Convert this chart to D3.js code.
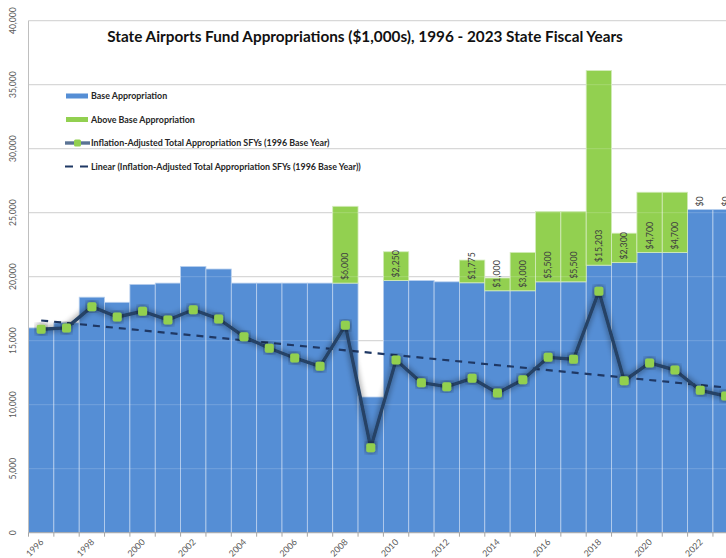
<!DOCTYPE html>
<html>
<head>
<meta charset="utf-8">
<script src="https://cdn.jsdelivr.net/npm/d3@7"></script>
<style>
  body { margin: 0; background: #fff; }
  svg { display: block; font-family: Lato, "Open Sans", sans-serif; }
</style>
</head>
<body>
<div id="chart"></div>
<script>
const width = 726;
const height = 558;

const years = d3.range(1996, 2024);
// base appropriation ($1,000s)
const baseValues = [16000, 16400, 18400, 18000, 19400, 19500, 20800, 20600, 19500, 19500,
    19500, 19500, 19500, 10600, 19700, 19700, 19600, 19525, 18900, 18900,
    19600, 19600, 20900, 21100, 21900, 21900, 25250, 25250];
// above base appropriation (null = none)
const aboveValues = [null, null, null, null, null, null, null, null, null, null,
    null, null, 6000, null, 2250, null, null, 1775, 1000, 3000,
    5500, 5500, 15203, 2300, 4700, 4700, 0, 0];
// inflation-adjusted total appropriation (1996 base year)
const adjustedValues = [15900, 16000, 17660, 16850, 17300, 16620, 17420, 16700, 15310, 14410,
    13650, 13000, 16200, 6640, 13490, 11720, 11410, 12060, 10910, 11950,
    13700, 13550, 18860, 11870, 13260, 12710, 11120, 10680];
const yTicks = d3.range(0, 40001, 5000);
const xLabelYears = years.filter(y => (y - 1996) % 2 === 0);

const legendItems = [
    {type: "bar", color: "#558ED5", label: "Base Appropriation"},
    {type: "bar", color: "#92D050", label: "Above Base Appropriation"},
    {type: "line", label: "Inflation-Adjusted Total Appropriation SFYs (1996 Base Year)"},
    {type: "dash", label: "Linear (Inflation-Adjusted Total Appropriation SFYs (1996 Base Year))"}
];

const left = 28.5;
const band = 25.35;

const x = d3.scaleBand()
    .domain(years)
    .range([left, left + band * years.length])
    .padding(0);

const y = d3.scaleLinear()
    .domain([0, 40000])
    .range([532.7, 20.7]);

const svg = d3.create("svg")
    .attr("width", width)
    .attr("height", height);

const defs = svg.append("defs");
const glow = defs.append("filter")
    .attr("id", "glow")
    .attr("x", "-20%").attr("y", "-20%")
    .attr("width", "140%").attr("height", "140%");
glow.append("feGaussianBlur")
    .attr("in", "SourceAlpha")
    .attr("stdDeviation", 3)
    .attr("result", "blur");
glow.append("feComponentTransfer")
    .attr("in", "blur")
    .attr("result", "soft")
    .append("feFuncA").attr("type", "linear").attr("slope", 0.6);
const merge = glow.append("feMerge");
merge.append("feMergeNode").attr("in", "soft");
merge.append("feMergeNode").attr("in", "SourceGraphic");

// gridlines
svg.append("g")
    .selectAll("line")
    .data(yTicks.filter(d => d > 0))
    .join("line")
    .attr("x1", left)
    .attr("x2", width)
    .attr("y1", d => y(d))
    .attr("y2", d => y(d))
    .attr("stroke", "#c8c8c8")
    .attr("stroke-width", 1);

// bars
const cx = d => x(d) + x.bandwidth() / 2;
const barData = years.map((yr, i) => ({year: yr, base: baseValues[i], above: aboveValues[i]}));

svg.append("g")
    .selectAll("rect")
    .data(barData)
    .join("rect")
    .attr("x", d => x(d.year))
    .attr("width", x.bandwidth())
    .attr("y", d => y(d.base))
    .attr("height", d => y(0) - y(d.base))
    .attr("fill", "#558ED5")
    .attr("stroke", "#b9d0ee")
    .attr("stroke-width", 0.8);

svg.append("g")
    .selectAll("rect")
    .data(barData.filter(d => d.above))
    .join("rect")
    .attr("x", d => x(d.year))
    .attr("width", x.bandwidth())
    .attr("y", d => y(d.base + d.above))
    .attr("height", d => y(d.base) - y(d.base + d.above))
    .attr("fill", "#92D050")
    .attr("stroke", "#d4ecbc")
    .attr("stroke-width", 0.8);

// faint gridlines over the bars
svg.append("g")
    .selectAll("line")
    .data(yTicks.filter(d => d > 0))
    .join("line")
    .attr("x1", left)
    .attr("x2", width)
    .attr("y1", d => y(d))
    .attr("y2", d => y(d))
    .attr("stroke", "#ffffff")
    .attr("stroke-opacity", 0.18);

// data labels on above-base segments
svg.append("g")
    .selectAll("text")
    .data(barData.filter(d => d.above !== null))
    .join("text")
    .attr("transform", d => `translate(${cx(d.year) + 3},${y(d.base) - 3}) rotate(-90)`)
    .attr("font-size", "8.8px")
    .attr("fill", "#404040")
    .text(d => "$" + d3.format(",")(d.above));

// axes
svg.append("line")
    .attr("x1", left).attr("x2", left)
    .attr("y1", y(40000)).attr("y2", y(0))
    .attr("stroke", "#bfbfbf");
svg.append("line")
    .attr("x1", left).attr("x2", width)
    .attr("y1", y(0)).attr("y2", y(0))
    .attr("stroke", "#a6a6a6");

svg.append("g")
    .selectAll("line")
    .data(years.concat([2024]))
    .join("line")
    .attr("x1", d => d === 2024 ? left + band * years.length : x(d))
    .attr("x2", d => d === 2024 ? left + band * years.length : x(d))
    .attr("y1", y(0))
    .attr("y2", y(0) + 4)
    .attr("stroke", "#a6a6a6");

svg.append("g")
    .selectAll("text")
    .data(yTicks)
    .join("text")
    .attr("transform", d => `translate(16,${y(d)}) rotate(-90)`)
    .attr("text-anchor", "middle")
    .attr("font-size", "8.5px")
    .attr("fill", "#595959")
    .text(d => d3.format(",")(d));

svg.append("g")
    .selectAll("text")
    .data(xLabelYears)
    .join("text")
    .attr("transform", d => `translate(${cx(d) + 3},${y(0) + 10}) rotate(-45)`)
    .attr("text-anchor", "end")
    .attr("font-size", "8.8px")
    .attr("fill", "#595959")
    .text(d => d);

// linear trend (least squares on the adjusted series)
const n = years.length;
const mx = d3.mean(years);
const my = d3.mean(adjustedValues);
const slope = d3.sum(years, (yr, i) => (yr - mx) * (adjustedValues[i] - my)) /
    d3.sum(years, yr => (yr - mx) * (yr - mx));
const trend = [years[0], years[n - 1]].map(yr => ({year: yr, v: my + slope * (yr - mx)}));

svg.append("path")
    .datum(trend)
    .attr("fill", "none")
    .attr("stroke", "#1F3864")
    .attr("stroke-width", 2.2)
    .attr("stroke-dasharray", "7,6")
    .attr("d", d3.line().x(d => cx(d.year)).y(d => y(d.v)));

// adjusted line
const lineData = years.map((yr, i) => ({year: yr, v: adjustedValues[i]}));
svg.append("path")
    .datum(lineData)
    .attr("fill", "none")
    .attr("stroke", "#254366")
    .attr("stroke-width", 3.4)
    .attr("stroke-linejoin", "round")
    .attr("filter", "url(#glow)")
    .attr("d", d3.line().x(d => cx(d.year)).y(d => y(d.v)));

svg.append("g")
    .selectAll("rect")
    .data(lineData)
    .join("rect")
    .attr("x", d => cx(d.year) - 4.5)
    .attr("y", d => y(d.v) - 4.5)
    .attr("width", 9)
    .attr("height", 9)
    .attr("rx", 2)
    .attr("fill", "#92D050")
    .attr("filter", "url(#glow)");

// title
svg.append("text")
    .attr("x", 365)
    .attr("y", 42)
    .attr("text-anchor", "middle")
    .attr("font-size", "15.3px")
    .attr("font-weight", "bold")
    .attr("fill", "#111")
    .text("State Airports Fund Appropriations ($1,000s), 1996 - 2023 State Fiscal Years");

// legend
const legend = svg.append("g");
const legendY = [96, 119.5, 143, 166.5];
legendItems.forEach((item, i) => {
    const g = legend.append("g").attr("transform", `translate(65,${legendY[i]})`);
    if (item.type === "bar") {
        g.append("rect").attr("x", 1).attr("y", -2.5).attr("width", 22).attr("height", 5)
            .attr("fill", item.color);
    } else if (item.type === "line") {
        g.append("line").attr("x1", 0).attr("x2", 25).attr("y1", 0).attr("y2", 0)
            .attr("stroke", "#5a7394").attr("stroke-width", 3.4);
        g.append("rect").attr("x", 9).attr("y", -3.5).attr("width", 7).attr("height", 7)
            .attr("rx", 1.5).attr("fill", "#92D050");
    } else {
        g.append("line").attr("x1", 0).attr("x2", 25).attr("y1", 0).attr("y2", 0)
            .attr("stroke", "#1F3864").attr("stroke-width", 2)
            .attr("stroke-dasharray", "8,7");
    }
    g.append("text")
        .attr("x", 26)
        .attr("y", 3)
        .attr("font-size", "8.9px")
        .attr("font-weight", "bold")
        .attr("fill", "#262626")
        .text(item.label);
});

d3.select("#chart").append(() => svg.node());
</script>
</body>
</html>
